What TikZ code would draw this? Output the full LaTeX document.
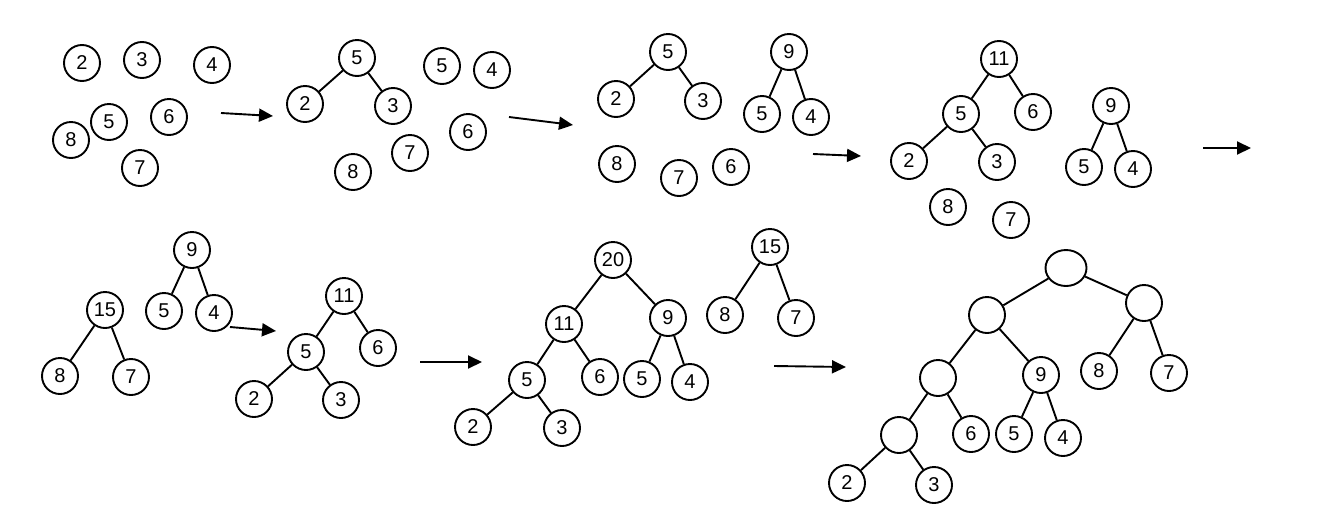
\documentclass[tikz,border=0pt]{standalone}
\usepackage{fontspec}
\setmainfont{Liberation Sans}
\usetikzlibrary{arrows.meta,shapes.geometric}
\begin{document}
\begin{tikzpicture}[x=1pt,y=-1pt,
  nd/.style={circle,draw,line width=1.9pt,minimum size=36pt,inner sep=0pt,font=\fontsize{20}{23}\selectfont},
  ell/.style={ellipse,draw,line width=1.9pt,minimum width=41pt,minimum height=36pt,inner sep=0pt},
  edge/.style={line width=1.9pt},
  arr/.style={line width=1.9pt,-{Triangle[length=14pt,width=13pt]}}]
\useasboundingbox (0,0) rectangle (1321,509);
% panel 1
\node[nd] (a2) at (82,63) {2};
\node[nd] (a3) at (142,60) {3};
\node[nd] (a4) at (212,65) {4};
\node[nd] (a5) at (109,122) {5};
\node[nd] (a6) at (169,117) {6};
\node[nd] (a8) at (71,140) {8};
\node[nd] (a7) at (140,168) {7};
\coordinate (r1s) at (221,113); \coordinate (r1e) at (273,116);
\draw[arr] (r1s) -- (r1e);
% panel 2
\node[nd] (b5) at (357,58) {5};
\node[nd] (b2) at (305,104) {2};
\node[nd] (b3) at (393,106) {3};
\node[nd] (b8) at (353,172) {8};
\node[nd] (b7) at (410,153) {7};
\node[nd] (b5b) at (442,66) {5};
\node[nd] (b4) at (492,70) {4};
\node[nd] (b6) at (468,132) {6};
\draw[edge] (b5) -- (b2); \draw[edge] (b5) -- (b3);
\coordinate (r2s) at (509,117); \coordinate (r2e) at (573,125);
\draw[arr] (r2s) -- (r2e);
% panel 3
\node[nd] (c5) at (668,52) {5};
\node[nd] (c2) at (616,99) {2};
\node[nd] (c3) at (703,101) {3};
\node[nd] (c9) at (789,52) {9};
\node[nd] (c5b) at (762,114) {5};
\node[nd] (c4) at (811,117) {4};
\node[nd] (c8) at (617,164) {8};
\node[nd] (c7) at (679,178) {7};
\node[nd] (c6) at (731,167) {6};
\draw[edge] (c5) -- (c2); \draw[edge] (c5) -- (c3);
\draw[edge] (c9) -- (c5b); \draw[edge] (c9) -- (c4);
\coordinate (r3s) at (813,154); \coordinate (r3e) at (861,156);
\draw[arr] (r3s) -- (r3e);
% panel 4
\node[nd] (d11) at (999,59) {11};
\node[nd] (d5) at (961,114) {5};
\node[nd] (d6) at (1033,112) {6};
\node[nd] (d2) at (909,161) {2};
\node[nd] (d3) at (997,162) {3};
\node[nd] (d8) at (948,207) {8};
\node[nd] (d7) at (1011,220) {7};
\node[nd] (d9) at (1111,106) {9};
\node[nd] (d5b) at (1084,167) {5};
\node[nd] (d4) at (1133,169) {4};
\draw[edge] (d11) -- (d5); \draw[edge] (d11) -- (d6);
\draw[edge] (d5) -- (d2); \draw[edge] (d5) -- (d3);
\draw[edge] (d9) -- (d5b); \draw[edge] (d9) -- (d4);
\coordinate (r4s) at (1203,148); \coordinate (r4e) at (1251,148);
\draw[arr] (r4s) -- (r4e);
% panel 5
\node[nd] (e9) at (192,250) {9};
\node[nd] (e5) at (164,311) {5};
\node[nd] (e4) at (214,313) {4};
\node[nd] (e15) at (105,310) {15};
\node[nd] (e8) at (60,376) {8};
\node[nd] (e7) at (131,377) {7};
\draw[edge] (e9) -- (e5); \draw[edge] (e9) -- (e4);
\draw[edge] (e15) -- (e8); \draw[edge] (e15) -- (e7);
\coordinate (r5s) at (230,327); \coordinate (r5e) at (276,331);
\draw[arr] (r5s) -- (r5e);
\node[nd] (e11) at (344,296) {11};
\node[nd] (e5b) at (306,352) {5};
\node[nd] (e6) at (378,348) {6};
\node[nd] (e2) at (254,399) {2};
\node[nd] (e3) at (341,400) {3};
\draw[edge] (e11) -- (e5b); \draw[edge] (e11) -- (e6);
\draw[edge] (e5b) -- (e2); \draw[edge] (e5b) -- (e3);
\coordinate (r6s) at (420,362); \coordinate (r6e) at (482,362);
\draw[arr] (r6s) -- (r6e);
% panel 6
\node[nd] (f20) at (613,260) {20};
\node[nd] (f11) at (564,324) {11};
\node[nd] (f9) at (668,318) {9};
\node[nd] (f5) at (527,380) {5};
\node[nd] (f6) at (600,377) {6};
\node[nd] (f5b) at (642,379) {5};
\node[nd] (f4) at (690,382) {4};
\node[nd] (f2) at (473,427) {2};
\node[nd] (f3) at (562,428) {3};
\node[nd] (f15) at (770,247) {15};
\node[nd] (f8) at (725,315) {8};
\node[nd] (f7) at (796,318) {7};
\draw[edge] (f20) -- (f11); \draw[edge] (f20) -- (f9);
\draw[edge] (f11) -- (f5); \draw[edge] (f11) -- (f6);
\draw[edge] (f9) -- (f5b); \draw[edge] (f9) -- (f4);
\draw[edge] (f5) -- (f2); \draw[edge] (f5) -- (f3);
\draw[edge] (f15) -- (f8); \draw[edge] (f15) -- (f7);
\coordinate (r7s) at (774,366); \coordinate (r7e) at (846,367);
\draw[arr] (r7s) -- (r7e);
% panel 7
\node[ell] (g0) at (1066,268) {};
\node[nd] (g1) at (987,315) {};
\node[nd] (g1r) at (1144,303) {};
\node[nd] (g2) at (938,378) {};
\node[nd] (g9) at (1041,375) {9};
\node[nd] (g8) at (1099,371) {8};
\node[nd] (g7) at (1169,373) {7};
\node[nd] (g3) at (899,435) {};
\node[nd] (g6) at (971,434) {6};
\node[nd] (g5) at (1014,434) {5};
\node[nd] (g4) at (1063,438) {4};
\node[nd] (gb2) at (847,483) {2};
\node[nd] (gb3) at (934,485) {3};
\draw[edge] (g0) -- (g1); \draw[edge] (g0) -- (g1r);
\draw[edge] (g1) -- (g2); \draw[edge] (g1) -- (g9);
\draw[edge] (g1r) -- (g8); \draw[edge] (g1r) -- (g7);
\draw[edge] (g2) -- (g3); \draw[edge] (g2) -- (g6);
\draw[edge] (g9) -- (g5); \draw[edge] (g9) -- (g4);
\draw[edge] (g3) -- (gb2); \draw[edge] (g3) -- (gb3);
\end{tikzpicture}
\end{document}
